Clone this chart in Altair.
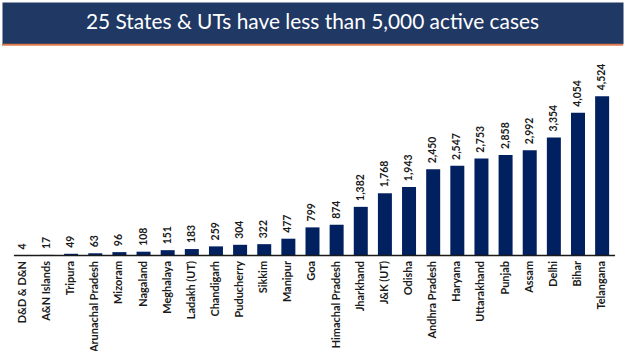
import altair as alt
import pandas as pd

title_text = ["25 States & UTs have less than 5,000 active cases"]

states = ["D&D & D&N", "A&N Islands", "Tripura", "Arunachal Pradesh", "Mizoram",
          "Nagaland", "Meghalaya", "Ladakh (UT)", "Chandigarh", "Puducherry",
          "Sikkim", "Manipur", "Goa", "Himachal Pradesh", "Jharkhand",
          "J&K (UT)", "Odisha", "Andhra Pradesh", "Haryana", "Uttarakhand",
          "Punjab", "Assam", "Delhi", "Bihar", "Telangana"]
cases = [4, 17, 49, 63, 96, 108, 151, 183, 259, 304, 322, 477, 799, 874, 1382,
         1768, 1943, 2450, 2547, 2753, 2858, 2992, 3354, 4054, 4524]

NAVY = "#1F3864"
BAR = "#002060"
ORANGE = "#E07B4F"
FONT = "Lato"
W = 625

df = pd.DataFrame({"state": states, "cases": cases})
tdf = pd.DataFrame({"t": title_text})

banner_text = alt.Chart(tdf).mark_text(
    font=FONT, fontSize=21, color="white", align="center", baseline="middle"
).encode(text="t:N", x=alt.value(W / 2), y=alt.value(21))

banner_rule = alt.Chart(tdf).mark_rule(color=ORANGE, strokeWidth=2).encode(
    x=alt.value(0), x2=alt.value(W), y=alt.value(43)
)

banner = alt.layer(banner_text, banner_rule).properties(
    width=W, height=42,
    view=alt.ViewBackground(fill=NAVY, stroke="transparent"),
)

xenc = alt.X(
    "state:N", sort=None,
    scale=alt.Scale(paddingInner=0.42, paddingOuter=0.575),
    axis=alt.Axis(title=None, labelAngle=270, labelFont=FONT, labelFontSize=11,
                  labelFontWeight="bold", labelColor="#1a1a1a", ticks=False,
                  domain=False, labelPadding=5),
)
yenc = alt.Y("cases:Q", scale=alt.Scale(domain=[0, 5900], nice=False), axis=None)

bars = alt.Chart(df).mark_bar(color=BAR).encode(x=xenc, y=yenc)

labels = alt.Chart(df).mark_text(
    angle=270, align="left", baseline="middle", dx=6,
    font=FONT, fontSize=10.5, fontWeight="bold", color="#1a1a1a",
).encode(x=xenc, y=yenc, text=alt.Text("cases:Q", format=","))

baseline = alt.Chart(tdf).mark_rule(color="#1a1a1a", strokeWidth=1.5).encode(
    x=alt.value(12), x2=alt.value(617), y=alt.datum(0)
)

main = alt.layer(bars, labels, baseline).properties(
    width=W, height=209,
    view=alt.ViewBackground(stroke="transparent"),
)

chart = alt.vconcat(banner, main, spacing=0).properties(
    padding=0, background="white"
).configure_view(stroke="transparent")

chart.save("out.html", embed_options={"renderer": "svg", "actions": False})
